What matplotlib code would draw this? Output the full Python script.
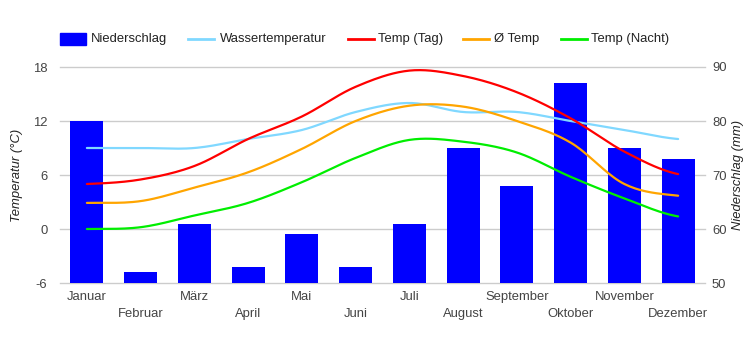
import numpy as np
import matplotlib
matplotlib.use("Agg")
import matplotlib.pyplot as plt
from matplotlib.lines import Line2D
from matplotlib.patches import Rectangle

plt.rcParams['font.family'] = ['Liberation Sans', 'DejaVu Sans']
plt.rcParams['axes.unicode_minus'] = False

# data
months = ["Januar", "Februar", "März", "April", "Mai", "Juni", "Juli",
          "August", "September", "Oktober", "November", "Dezember"]
niederschlag = [80, 52, 61, 53, 59, 53, 61, 75, 68, 87, 75, 73]
wasser = [9, 9, 9, 10, 11, 13, 14, 13, 13, 12, 11, 10]
temp_tag = [5, 5.5, 7, 10, 12.5, 15.8, 17.6, 17, 15.2, 12.3, 8.6, 6.1]
temp_avg = [2.9, 3.1, 4.6, 6.3, 8.9, 12, 13.7, 13.6, 12, 9.6, 5, 3.7]
temp_nacht = [0, 0.2, 1.5, 2.9, 5.2, 7.9, 9.9, 9.7, 8.5, 5.8, 3.4, 1.4]


def smooth(y, n=20):
    # Catmull-Rom curve through the points, for drawing only
    y = np.asarray(y, dtype=float)
    p = np.concatenate([[y[0]], y, [y[-1]]])
    xs, ys = [], []
    for i in range(len(y) - 1):
        p0, p1, p2, p3 = p[i], p[i + 1], p[i + 2], p[i + 3]
        t = np.linspace(0, 1, n, endpoint=False)
        val = 0.5 * (2 * p1 + (-p0 + p2) * t
                     + (2 * p0 - 5 * p1 + 4 * p2 - p3) * t ** 2
                     + (-p0 + 3 * p1 - 3 * p2 + p3) * t ** 3)
        xs.extend(i + t)
        ys.extend(val)
    xs.append(len(y) - 1)
    ys.append(y[-1])
    return np.array(xs), np.array(ys)


fig = plt.figure(figsize=(7.5, 3.5), dpi=100)
ax2 = fig.add_axes([60 / 750, 1 - 283 / 350, 645 / 750, 216 / 350])
ax = ax2.twinx()
ax.set_position(ax2.get_position())

x = np.arange(len(months))

# precipitation bars (right axis, bottom layer)
ax2.bar(x, [v - 50 for v in niederschlag], bottom=50, width=0.61,
        color="#0000ff", zorder=3)
ax2.set_ylim(50, 90)
ax2.set_yticks([50, 60, 70, 80, 90])
ax2.grid(axis="y", color="#cccccc", linewidth=1, zorder=0)
ax2.set_axisbelow(True)
ax2.set_xlim(-0.5, 11.5)

# temperature lines (left axis, on top)
series = [(wasser, "#80d8ff"), (temp_tag, "#ff0000"),
          (temp_avg, "#ffa500"), (temp_nacht, "#00ee00")]
for vals, col in series:
    sx, sy = smooth(vals)
    ax.plot(sx, sy, color=col, linewidth=1.6, solid_capstyle="round")
ax.set_ylim(-6, 18)
ax.set_yticks([-6, 0, 6, 12, 18])

ax.set_zorder(ax2.get_zorder() + 1)
ax.patch.set_visible(False)

# temperature axis on the left, mm on the right
ax.yaxis.tick_left()
ax2.yaxis.tick_right()
for a in (ax, ax2):
    for s in a.spines.values():
        s.set_visible(False)
    a.tick_params(length=0, labelsize=9.4, colors="#444444")
ax.tick_params(axis="y", pad=9)
ax2.tick_params(axis="y", pad=5)

# month labels in two staggered rows
ax2.set_xticks(x)
ax2.set_xticklabels([])
ax2.set_xlim(-0.5, 11.5)
for i, m in enumerate(months):
    dy = -9.8 if i % 2 == 0 else -22.5
    ax2.annotate(m, xy=(i, 0), xycoords=("data", "axes fraction"),
                 xytext=(0, dy), textcoords="offset points",
                 ha="center", va="center", fontsize=9.4, color="#444444",
                 annotation_clip=False)

fig.canvas.draw()
for gl in ax2.get_ygridlines():
    gl.set_clip_on(False)

fig.text(17 / 750, 0.5, "Temperatur (°C)", rotation=90, style="italic",
         ha="center", va="center", fontsize=9.4, color="#222222")
fig.text(738 / 750, 0.5, "Niederschlag (mm)", rotation=90, style="italic",
         ha="center", va="center", fontsize=9.4, color="#222222")

# legend
ly = 1 - 39 / 350
fig.patches.append(Rectangle((60 / 750, 1 - 45 / 350), 26 / 750, 12 / 350,
                             transform=fig.transFigure, color="#0000ff"))
fig.text(91 / 750, ly, "Niederschlag", ha="left", va="center",
         fontsize=9.4, color="#222222")
legend_items = [(188, 220, "Wassertemperatur", "#80d8ff"),
                (348, 378, "Temp (Tag)", "#ff0000"),
                (463, 494, "Ø Temp", "#ffa500"),
                (561, 591, "Temp (Nacht)", "#00ee00")]
for x0, tx, name, col in legend_items:
    fig.lines.append(Line2D([x0 / 750, (x0 + 26) / 750], [ly, ly],
                            transform=fig.transFigure, color=col,
                            linewidth=2))
    fig.text(tx / 750, ly, name, ha="left", va="center",
             fontsize=9.4, color="#222222")

fig.savefig("out.png", dpi=100)
